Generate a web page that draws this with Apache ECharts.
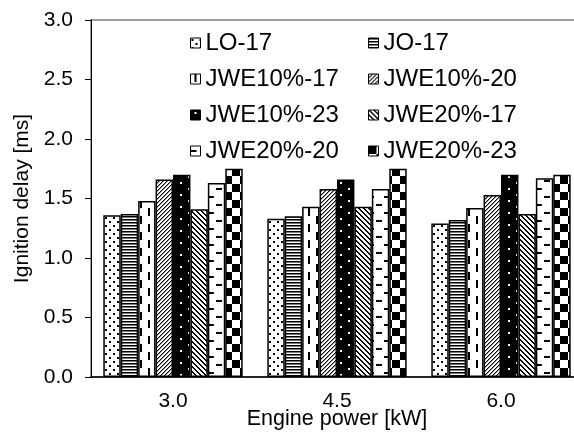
<!DOCTYPE html>
<html>
<head>
<meta charset="utf-8">
<script src="https://cdn.jsdelivr.net/npm/echarts@6/dist/echarts.min.js"></script>
<style>
  html, body { margin: 0; padding: 0; background: #fff; }
  #main { width: 574px; height: 434px; }
</style>
</head>
<body>
<div id="main"></div>
<script>
// data
var categories = ['3.0', '4.5', '6.0'];
var seriesNames = ['LO-17', 'JO-17', 'JWE10%-17', 'JWE10%-20', 'JWE10%-23', 'JWE20%-17', 'JWE20%-20', 'JWE20%-23'];
var lo17 = [1.36, 1.33, 1.29];
var jo17 = [1.37, 1.35, 1.32];
var jwe10_17 = [1.48, 1.43, 1.42];
var jwe10_20 = [1.66, 1.58, 1.53];
var jwe10_23 = [1.70, 1.66, 1.70];
var jwe20_17 = [1.41, 1.43, 1.37];
var jwe20_20 = [1.63, 1.58, 1.67];
var jwe20_23 = [1.75, 1.75, 1.70];
var yTicks = [0, 0.5, 1.0, 1.5, 2.0, 2.5, 3.0];

var values = [lo17, jo17, jwe10_17, jwe10_20, jwe10_23, jwe20_17, jwe20_20, jwe20_23];

var FONT = '"Liberation Sans", Arial, sans-serif';

// small bitmap tiles, like excel fill patterns
function tile(w, h, draw) {
  var c = document.createElement('canvas');
  c.width = w;
  c.height = h;
  var g = c.getContext('2d');
  g.fillStyle = '#fff';
  g.fillRect(0, 0, w, h);
  g.fillStyle = '#000';
  draw(g);
  return { image: c, repeat: 'repeat' };
}

var patterns = [
  // dots
  tile(8, 8, function (g) { g.fillRect(1, 1, 2, 2); g.fillRect(5, 5, 2, 2); }),
  // narrow horizontal
  tile(4, 3, function (g) { g.fillRect(0, 0, 4, 1); g.fillStyle = '#777'; g.fillRect(0, 1, 4, 1); }),
  // dashed vertical
  tile(16, 16, function (g) { g.fillRect(4, 0, 2, 8); g.fillRect(12, 8, 2, 8); }),
  // upward diagonal
  tile(4, 4, function (g) {
    for (var y = 0; y < 4; y++) g.fillRect(3 - y, y, 1, 1);
    g.fillStyle = '#999';
    for (y = 0; y < 4; y++) g.fillRect((4 - y) % 4, y, 1, 1);
  }),
  // black, white dots
  tile(16, 12, function (g) {
    g.fillRect(0, 0, 16, 12);
    g.fillStyle = '#fff';
    g.fillRect(4, 2, 2, 2);
    g.fillRect(12, 8, 2, 2);
  }),
  // downward diagonal
  tile(5, 5, function (g) {
    for (var y = 0; y < 5; y++) { g.fillRect(y, y, 1, 1); g.fillRect((y + 1) % 5, y, 1, 1); }
  }),
  // dashed horizontal
  tile(16, 16, function (g) { g.fillRect(0, 4, 6, 2); g.fillRect(8, 12, 6, 2); }),
  // checker board
  tile(16, 16, function (g) { g.fillRect(0, 0, 8, 8); g.fillRect(8, 8, 8, 8); })
];

var series = seriesNames.map(function (name, i) {
  return {
    name: name,
    type: 'bar',
    data: values[i],
    barGap: '0%',
    barCategoryGap: '15%',
    itemStyle: { color: patterns[i], borderColor: '#000', borderWidth: 1.5 },
    silent: true
  };
});

var legendBase = {
  orient: 'vertical',
  top: 26,
  itemGap: 12,
  itemWidth: 10,
  itemHeight: 10,
  icon: 'rect',
  itemStyle: { borderColor: '#000', borderWidth: 1 },
  textStyle: { fontSize: 24, color: '#000', fontFamily: FONT },
  selectedMode: false
};

var chart = echarts.init(document.getElementById('main'), null, { renderer: 'canvas' });
chart.setOption({
  animation: false,
  backgroundColor: '#fff',
  textStyle: { fontFamily: FONT },
  grid: {
    left: 91,
    top: 20,
    width: 492,
    height: 357,
    outerBoundsMode: 'none',
    containLabel: false,
    show: true,
    borderColor: '#808080',
    borderWidth: 1.5,
    backgroundColor: 'transparent'
  },
  legend: [
    Object.assign({}, legendBase, { left: 185, data: [seriesNames[0], seriesNames[2], seriesNames[4], seriesNames[6]] }),
    Object.assign({}, legendBase, { left: 363, data: [seriesNames[1], seriesNames[3], seriesNames[5], seriesNames[7]] })
  ],
  xAxis: {
    type: 'category',
    data: categories,
    axisLine: { lineStyle: { color: '#000', width: 1.5 } },
    axisTick: { length: 6, lineStyle: { color: '#000' } },
    axisLabel: { fontSize: 21, color: '#000', margin: 14, fontFamily: FONT },
    name: 'Engine power [kW]',
    nameLocation: 'middle',
    nameGap: 31,
    nameMoveOverlap: false,
    nameTextStyle: { fontSize: 21.5, color: '#000', fontFamily: FONT }
  },
  yAxis: {
    type: 'value',
    min: yTicks[0],
    max: yTicks[yTicks.length - 1],
    interval: 0.5,
    splitLine: { show: false },
    axisLine: { show: true, lineStyle: { color: '#000', width: 1 } },
    axisTick: { show: true, length: 6, lineStyle: { color: '#000' } },
    axisLabel: {
      fontSize: 21, color: '#000', margin: 18, fontFamily: FONT,
      formatter: function (v) { return v.toFixed(1); }
    },
    name: 'Ignition delay [ms]',
    nameLocation: 'middle',
    nameGap: 58,
    nameTextStyle: { fontSize: 21, color: '#000', fontFamily: FONT }
  },
  series: series
});
</script>
</body>
</html>
